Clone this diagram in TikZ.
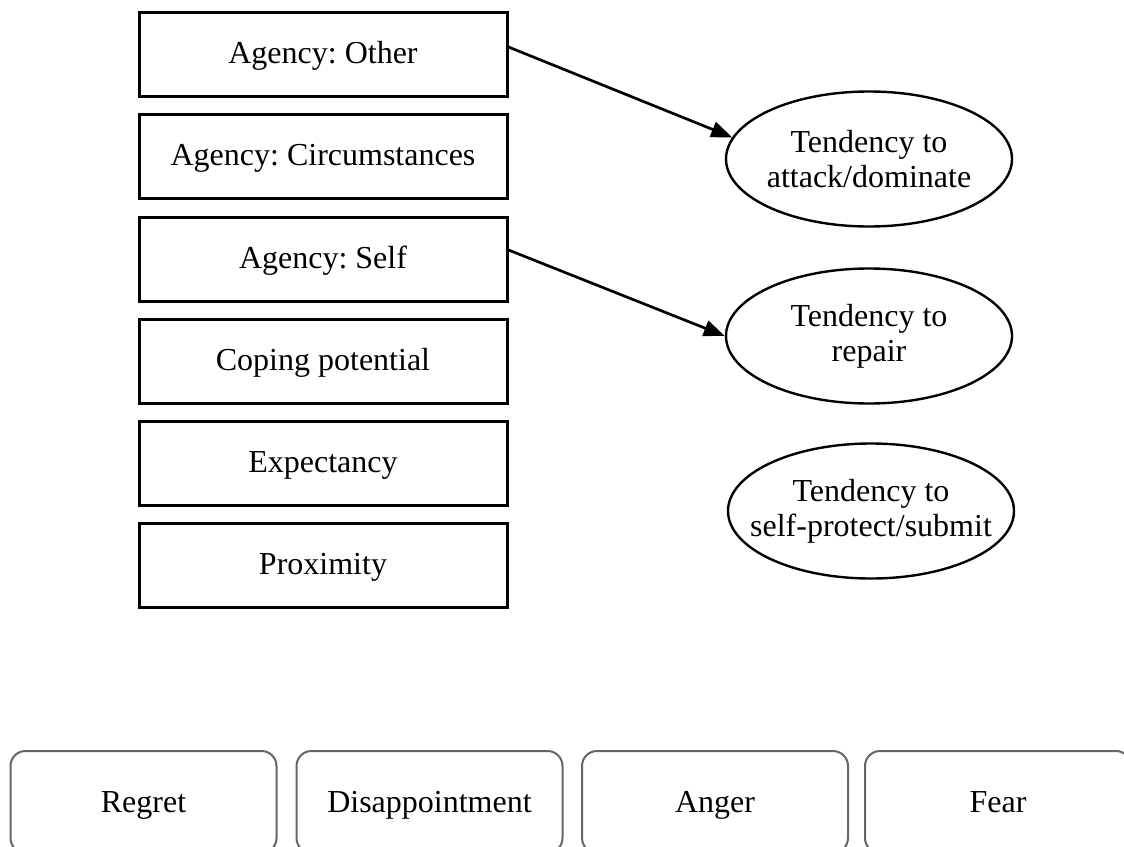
\documentclass[tikz,border=0pt]{standalone}
\usepackage{fontspec}
\setmainfont{Liberation Serif}
\usetikzlibrary{shapes.geometric,arrows.meta}
\begin{document}
\frenchspacing
\begin{tikzpicture}[x=0.5pt,y=-0.5pt,
  factor/.style={draw,line width=1.5pt,minimum width=184pt,minimum height=42pt,inner sep=0pt,text height=11pt,text depth=2pt,font=\fontsize{16}{19}\selectfont},
  tend/.style={draw,ellipse,line width=1.2pt,minimum width=143pt,minimum height=67.5pt,inner ysep=0pt,inner xsep=-12pt,align=center,font=\fontsize{16}{17.5}\selectfont},
  emo/.style={draw=black!60,rounded corners=7.5pt,line width=1pt,minimum width=133pt,minimum height=51pt,inner sep=0pt,text height=12pt,text depth=2pt,font=\fontsize{16}{19}\selectfont},
  link/.style={line width=1.35pt,-{Triangle[length=10.5pt,width=8pt]}}]
\useasboundingbox (0,0) rectangle (1124,846);
\clip (0,0) rectangle (1124,846);
\node[factor] (f1) at (323,54.5) {Agency: Other};
\node[factor] (f2) at (323,156) {Agency: Circumstances};
\node[factor] (f3) at (323,259.5) {Agency: Self};
\node[factor] (f4) at (323,361) {Coping potential};
\node[factor] (f5) at (323,463) {Expectancy};
\node[factor] (f6) at (323,565) {Proximity};
\node[tend] (t1) at (869,159) {Tendency to\\attack/dominate};
\node[tend] (t2) at (869,336) {Tendency to\\repair};
\node[tend] (t3) at (871,511) {Tendency to\\self-protect/submit};
\node[emo] (r) at (143.5,802) {Regret};
\node[emo] (d) at (429.5,802) {Disappointment};
\node[emo] (a) at (715,802) {Anger};
\node[emo] (fe) at (998,802) {Fear};
\draw[link] ([yshift=3.75pt]f1.east) -- (t1.171);
\draw[link] ([yshift=4.75pt]f3.east) -- (t2.west);
\end{tikzpicture}
\end{document}
